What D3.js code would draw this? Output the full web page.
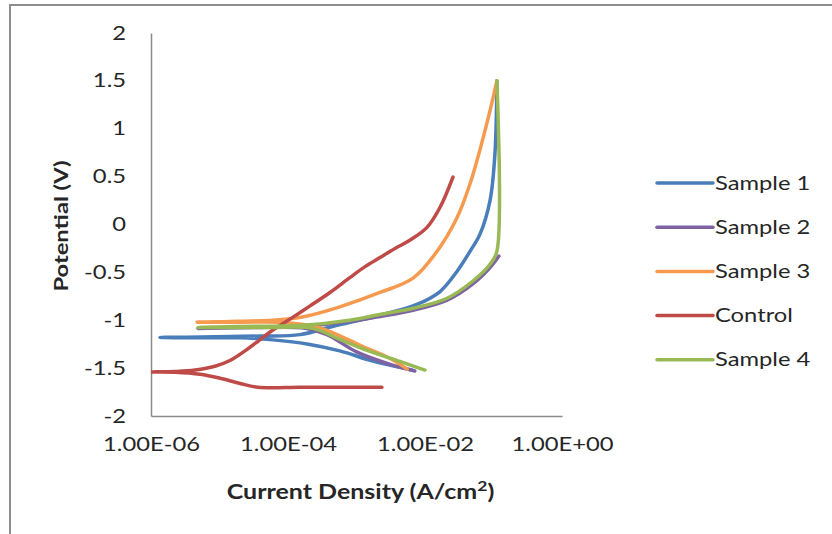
<!DOCTYPE html>
<html>
<head>
<meta charset="utf-8">
<script src="https://cdn.jsdelivr.net/npm/d3@7"></script>
<style>
  body { margin: 0; background: #fff; }
  svg { display: block; font-family: Lato, "Open Sans", sans-serif; }
</style>
</head>
<body>
<div id="chart"></div>
<script>
// polarization curves - current density (A/cm2) vs potential (V), in scan order

const seriesNames = ['Sample 1', 'Sample 2', 'Sample 3', 'Control', 'Sample 4'];
const seriesColours = ['#4A7EBB', '#7E62A1', '#F59A4E', '#BE4B48', '#98B954'];

const xTicks = [1e-6, 1e-4, 1e-2, 1];
const xTickLabels = ['1.00E-06', '1.00E-04', '1.00E-02', '1.00E+00'];
const yTicks = [2, 1.5, 1, 0.5, 0, -0.5, -1, -1.5, -2];

const sample1Current = [6.45e-3, 4.8e-3, 1.74e-3, 5.7e-4, 1.9e-4, 6.0e-5, 2.0e-5, 5.2e-6, 1.35e-6,
    5.2e-6, 3.9e-5, 1.5e-4, 4.5e-4, 2.44e-3, 7.6e-3, 1.66e-2, 2.93e-2, 4.54e-2, 6.35e-2, 8.9e-2, 0.105, 0.112];
const sample1Potential = [-1.52, -1.50, -1.427, -1.32, -1.247, -1.205, -1.184, -1.184, -1.18,
    -1.175, -1.165, -1.15, -1.065, -0.94, -0.835, -0.70, -0.49, -0.28, -0.10, 0.25, 0.74, 1.5];

const sample2Current = [7.1e-3, 3.1e-3, 1.0e-3, 3.7e-4, 1.8e-4, 3.9e-5, 4.85e-6,
    2.0e-5, 1.5e-4, 8.0e-4, 2.2e-3, 6.7e-3, 2.1e-2, 5.0e-2, 8.9e-2, 0.12];
const sample2Potential = [-1.53, -1.46, -1.33, -1.15, -1.085, -1.075, -1.085,
    -1.075, -1.065, -1.01, -0.96, -0.895, -0.79, -0.62, -0.45, -0.33];

const sample3Current = [5.5e-3, 3.1e-3, 1.2e-3, 3.7e-4, 1.9e-4, 7.6e-5, 2.0e-5, 4.7e-6,
    2.0e-5, 7.6e-5, 1.9e-4, 5.7e-4, 2.2e-3, 6.7e-3, 1.5e-2, 2.93e-2, 4.54e-2, 5.75e-2, 8.9e-2, 0.112];
const sample3Potential = [-1.51, -1.40, -1.27, -1.105, -1.05, -1.02, -1.02, -1.02,
    -1.01, -0.995, -0.955, -0.86, -0.71, -0.56, -0.28, 0.07, 0.425, 0.67, 1.19, 1.5];

const controlCurrent = [2.35e-3, 5.74e-4, 1.5e-4, 3.65e-5, 2.0e-5, 1.02e-5, 5.2e-6, 2.24e-6, 1.0e-6,
    2.24e-6, 4.4e-6, 8.6e-6, 1.42e-5, 2.35e-5, 3.65e-5, 5.8e-5, 1.14e-4, 2.1e-4, 4.1e-4, 8.0e-4,
    1.33e-3, 2.2e-3, 3.65e-3, 6.0e-3, 1.07e-2, 1.66e-2, 2.56e-2];
const controlPotential = [-1.70, -1.70, -1.70, -1.70, -1.66, -1.605, -1.563, -1.542, -1.54,
    -1.535, -1.52, -1.48, -1.42, -1.32, -1.22, -1.11, -0.975, -0.85, -0.71, -0.555,
    -0.44, -0.345, -0.25, -0.165, -0.03, 0.18, 0.495];

const sample4Current = [1.0e-2, 4.3e-3, 1.57e-3, 5.7e-4, 2.3e-4, 6.0e-5, 2.0e-5, 4.85e-6,
    2.0e-5, 1.5e-4, 8.0e-4, 2.2e-3, 6.7e-3, 2.1e-2, 5.0e-2, 8.9e-2, 0.112, 0.112];
const sample4Potential = [-1.52, -1.43, -1.325, -1.2, -1.085, -1.075, -1.075, -1.075,
    -1.065, -1.055, -1.0, -0.94, -0.875, -0.77, -0.59, -0.415, -0.28, 1.5];

const currents = [sample1Current, sample2Current, sample3Current, controlCurrent, sample4Current];
const potentials = [sample1Potential, sample2Potential, sample3Potential, controlPotential, sample4Potential];

// build one object per series
const data = seriesNames.map((name, i) => {
    return {
        name: name,
        colour: seriesColours[i],
        values: currents[i].map((c, j) => ({ x: c, y: potentials[i][j] }))
    };
});

const width = 832, height = 534;
const plot = { left: 151, right: 562, top: 33, bottom: 416 };
const stretch = 1.25; // the reference text is drawn wide

const svg = d3.select('#chart').append('svg')
    .attr('width', width)
    .attr('height', height);

// outer chart border (top and left visible)
svg.append('path')
    .attr('d', `M10,${height + 2} L10,5 L${width + 2},5`)
    .attr('fill', 'none')
    .attr('stroke', '#8e8e8e')
    .attr('stroke-width', 2);

const x = d3.scaleLog()
    .domain([1e-6, 1])
    .range([plot.left, plot.right]);
const y = d3.scaleLinear()
    .domain([-2, 2])
    .range([plot.bottom, plot.top]);

// axes
const xAxis = d3.axisBottom(x)
    .tickValues(xTicks)
    .tickFormat((d, i) => xTickLabels[i])
    .tickSize(0)
    .tickPadding(22);
const gx = svg.append('g')
    .attr('transform', `translate(0, ${plot.bottom})`)
    .call(xAxis);

const yAxis = d3.axisLeft(y)
    .tickValues(yTicks)
    .tickFormat(d => String(d)) // plain hyphen minus, like Excel
    .tickSize(0)
    .tickPadding(0);
const gy = svg.append('g')
    .attr('transform', `translate(${plot.left}, 0)`)
    .call(yAxis);

[gx, gy].forEach(g => {
    g.select('.domain').attr('stroke', '#8a8a8a').attr('stroke-width', 1.5);
    g.selectAll('text')
        .attr('font-family', 'Lato, sans-serif')
        .attr('font-size', 19)
        .attr('fill', '#262626');
});
gx.selectAll('text').attr('transform', `scale(${stretch},1)`);
gy.selectAll('text')
    .attr('x', -25 / stretch)
    .attr('transform', `scale(${stretch},1)`);

// clip lines to plot area
svg.append('clipPath').attr('id', 'clip')
    .append('rect')
    .attr('x', plot.left).attr('y', plot.top)
    .attr('width', plot.right - plot.left).attr('height', plot.bottom - plot.top);

const line = d3.line()
    .x(d => x(d.x))
    .y(d => y(d.y))
    .curve(d3.curveCatmullRom.alpha(0.5));

svg.append('g')
    .attr('clip-path', 'url(#clip)')
    .selectAll('path')
    .data(data)
    .enter()
    .append('path')
        .attr('d', d => line(d.values))
        .attr('fill', 'none')
        .attr('stroke', d => d.colour)
        .attr('stroke-width', 3.5)
        .attr('stroke-linecap', 'round')
        .attr('stroke-linejoin', 'round');

// axis titles
const xTitle = svg.append('text')
    .attr('transform', `translate(${(plot.left + plot.right) / 2 + 4}, 499) scale(${stretch},1)`)
    .attr('text-anchor', 'middle')
    .attr('font-size', 20)
    .attr('font-weight', 'bold')
    .attr('fill', '#262626');
xTitle.append('tspan').text('Current Density (A/cm');
xTitle.append('tspan').attr('dy', -8).attr('font-size', 14).text('2');
xTitle.append('tspan').attr('dy', 8).text(')');

svg.append('text')
    .attr('transform', `translate(68, 226) rotate(-90) scale(${stretch},1)`)
    .attr('text-anchor', 'middle')
    .attr('font-size', 19)
    .attr('font-weight', 'bold')
    .attr('fill', '#262626')
    .text('Potential (V)');

// legend
const legend = svg.append('g')
    .selectAll('g')
    .data(data)
    .enter()
    .append('g')
        .attr('transform', (_, i) => `translate(657, ${183 + i * 44.2})`);

legend.append('line')
    .attr('x1', 0).attr('x2', 56)
    .attr('stroke', d => d.colour)
    .attr('stroke-width', 3.5)
    .attr('stroke-linecap', 'round');
legend.append('text')
    .attr('transform', `translate(58, 0) scale(${stretch},1)`)
    .attr('dy', '0.35em')
    .attr('font-size', 19)
    .attr('fill', '#262626')
    .text(d => d.name);
</script>
</body>
</html>
